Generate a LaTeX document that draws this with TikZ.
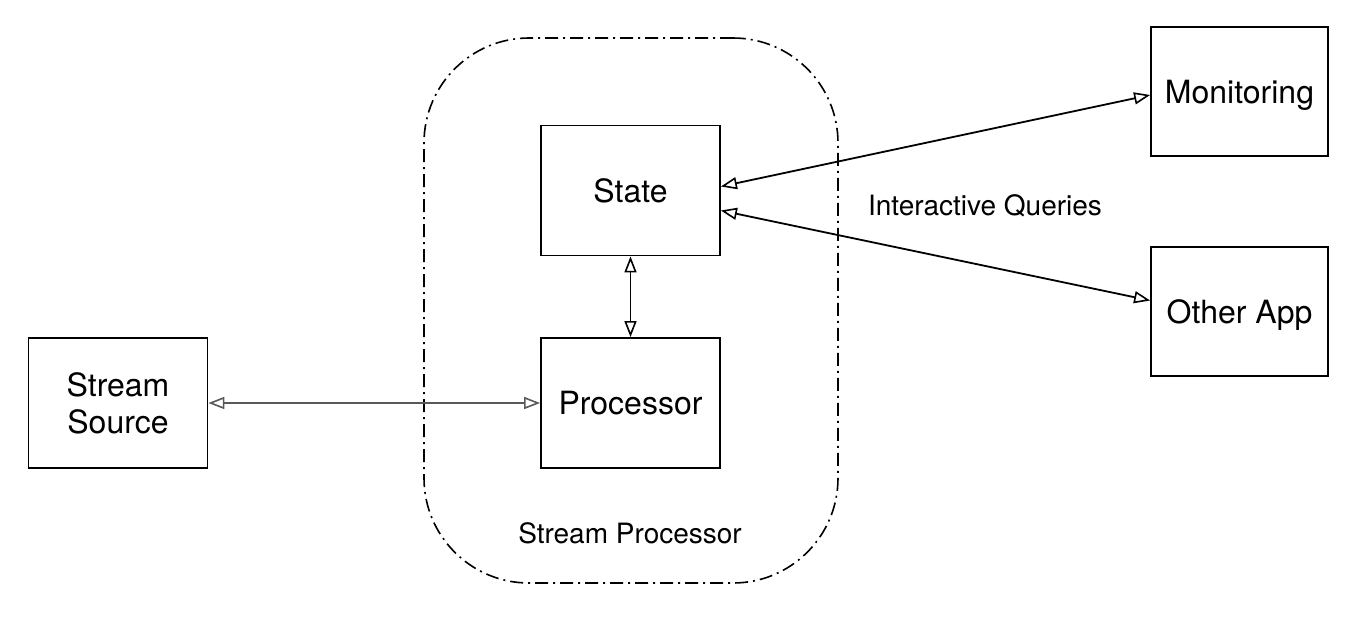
\documentclass[tikz,border=0pt]{standalone}
\usepackage{fontspec}
\setmainfont{TeX Gyre Heros}
\usetikzlibrary{arrows.meta}
\begin{document}
\begin{tikzpicture}
[x=1pt,y=-1pt,
 box/.style={draw,line width=1.8pt,minimum width=179pt,minimum height=130pt,inner sep=0pt,align=center,font=\fontsize{32}{37}\selectfont},
 appbox/.style={box,minimum width=177pt,minimum height=129pt,text depth=0pt},
 grp/.style={draw,line width=1.6pt,rounded corners=105pt,dash pattern=on 13pt off 5pt on 2pt off 5pt,minimum width=414pt,minimum height=545pt},
 lbl/.style={font=\fontsize{28}{32}\selectfont},
 link/.style={line width=1.8pt,{Triangle[open,length=16pt,width=12pt,line width=1.6pt]}-{Triangle[open,length=16pt,width=12pt,line width=1.6pt]}}]

\useasboundingbox (0,0) rectangle (1369,622);

\node (sp) at (631,310.5) [grp] {};

\node (state) at (630.5,190.5) [box] {State};
\node (proc) at (630.5,403) [box] {Processor};
\node (src) at (118,403) [box] {Stream\\Source};
\node (mon) at (1239.5,91.5) [appbox] {Monitoring};
\node (app) at (1239.5,311.5) [appbox] {Other App};

\node (splbl) at (630,533) [lbl] {Stream Processor};
\node (iq) at (985,206) [lbl] {Interactive Queries};

\draw[link,draw=black!65] (src) -- (proc);
\draw[link] (state) -- (proc);
\draw[link] ([yshift=4pt]state.east) -- ([yshift=-3.5pt]mon.west);
\draw[link] ([yshift=-20pt]state.east) -- ([yshift=11pt]app.west);

\end{tikzpicture}
\end{document}
